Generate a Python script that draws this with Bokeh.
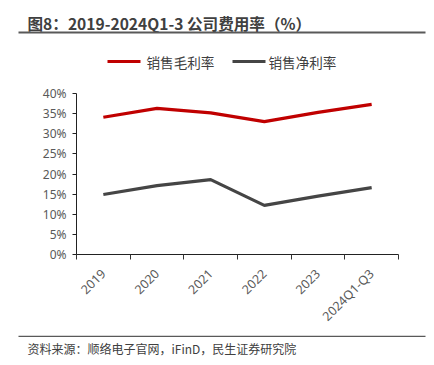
from bokeh.plotting import figure
from bokeh.layouts import column
from bokeh.models import Range1d, FixedTicker, PrintfTickFormatter
from bokeh.core.properties import value
from bokeh.embed import file_html
from bokeh.resources import INLINE

categories = ["2019", "2020", "2021", "2022", "2023", "2024Q1-Q3"]
gross_margin = [34.1, 36.3, 35.2, 33.0, 35.3, 37.3]
net_margin = [14.9, 17.1, 18.6, 12.2, 14.5, 16.6]
y_ticks = [0, 5, 10, 15, 20, 25, 30, 35, 40]

title_text = "图8：2019-2024Q1-3 公司费用率（%）"
source_text = "资料来源：顺络电子官网，iFinD，民生证券研究院"
legend_names = ["销售毛利率", "销售净利率"]

RED = "#C00000"
GREY = "#454545"
CJK = "Noto Sans CJK SC"
W = 434
HEAD_H, MAIN_H, FOOT_H = 80, 255, 30


def blank(h):
    f = figure(width=W, height=h, output_backend="svg", toolbar_location=None,
               x_range=Range1d(0, W), y_range=Range1d(h, 0), frame_align=False,
               min_border_left=0, min_border_right=0, min_border_top=0, min_border_bottom=0)
    f.axis.visible = False
    f.grid.visible = False
    f.outline_line_color = None
    return f


# header: title, rule, legend
head = blank(HEAD_H)
head.text(x=[27], y=[22], text=[title_text], text_font=value(CJK), text_font_size="15.6px",
          text_font_style="bold", text_color="#404040", text_baseline="middle")
head.segment(x0=[18], y0=[32], x1=[425], y1=[32], line_color="#595959", line_width=2)
head.segment(x0=[107], y0=[61], x1=[140], y1=[61], line_color=RED, line_width=3)
head.text(x=[146], y=[61], text=[legend_names[0]], text_font=value(CJK), text_font_size="13.6px",
          text_color="#404040", text_baseline="middle")
head.segment(x0=[232], y0=[61], x1=[265], y1=[61], line_color=GREY, line_width=3)
head.text(x=[268], y=[61], text=[legend_names[1]], text_font=value(CJK), text_font_size="13.6px",
          text_color="#404040", text_baseline="middle")

# main chart
p = figure(width=W, height=MAIN_H, output_backend="svg", toolbar_location=None,
           x_range=Range1d(0, len(categories)), y_range=Range1d(0, 40), frame_align=False,
           min_border_left=76, min_border_right=36, min_border_top=13, min_border_bottom=81)
p.outline_line_color = None
p.xgrid.visible = False
p.ygrid.visible = False

xs = [i + 0.5 for i in range(len(categories))]
p.line(xs, gross_margin, line_color=RED, line_width=3.2)
p.line(xs, net_margin, line_color=GREY, line_width=3.2)

xa = p.xaxis[0]
xa.ticker = FixedTicker(ticks=xs, minor_ticks=list(range(len(categories) + 1)))
xa.major_label_overrides = {x: c for x, c in zip(xs, categories)}
xa.major_tick_line_color = None
xa.minor_tick_line_color = "#333333"
xa.minor_tick_out = 5
xa.minor_tick_in = 0
xa.axis_line_color = "#222222"
xa.major_label_orientation = 0.785398
xa.major_label_text_font = "Noto Sans"
xa.major_label_text_font_size = "12.5px"
xa.major_label_text_color = "#595959"
xa.major_label_standoff = 11

ya = p.yaxis[0]
ya.ticker = FixedTicker(ticks=y_ticks)
ya.formatter = PrintfTickFormatter(format="%d%%")
ya.minor_tick_line_color = None
ya.major_tick_out = 4
ya.major_tick_in = 0
ya.major_tick_line_color = "#222222"
ya.axis_line_color = "#222222"
ya.major_label_text_font = "Noto Sans"
ya.major_label_text_font_size = "12px"
ya.major_label_text_color = "#595959"
ya.major_label_standoff = 6

# footer: rule and source
foot = blank(FOOT_H)
foot.segment(x0=[18], y0=[0.8], x1=[425], y1=[0.8], line_color="#595959", line_width=1.5)
foot.text(x=[27], y=[13], text=[source_text], text_font=value(CJK), text_font_size="12px",
          text_color="#404040", text_baseline="middle")

layout = column(head, p, foot, spacing=0)
open("out.html", "w").write(file_html(layout, INLINE))
